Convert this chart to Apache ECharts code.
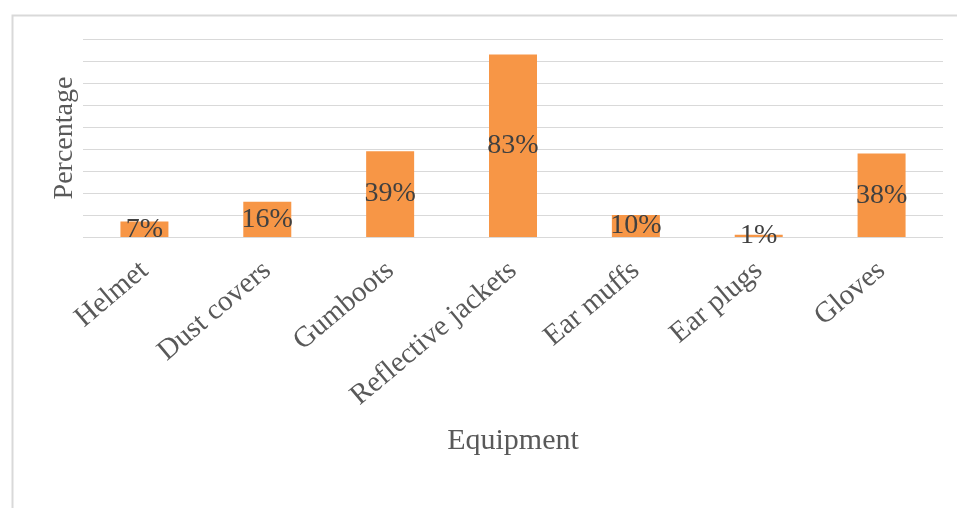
<!DOCTYPE html>
<html>
<head>
<meta charset="utf-8">
<script src="https://cdn.jsdelivr.net/npm/echarts@6/dist/echarts.min.js"></script>
<style>
html,body{margin:0;padding:0;background:#fff;}
#chart{width:957px;height:508px;}
</style>
</head>
<body>
<div id="chart"></div>
<script>
const categories = ['Helmet', 'Dust covers', 'Gumboots', 'Reflective jackets', 'Ear muffs', 'Ear plugs', 'Gloves'];
const percentages = [7, 16, 39, 83, 10, 1, 38];
const yMin = 0, yMax = 90, yInterval = 10;

const serif = '"Liberation Serif", "Times New Roman", serif';
const chart = echarts.init(document.getElementById('chart'), null, {renderer: 'canvas'});
chart.setOption({
  animation: false,
  backgroundColor: '#ffffff',
  graphic: [{
    type: 'rect',
    left: 10, top: 13,
    shape: {width: 980, height: 520},
    style: {fill: 'none', stroke: '#d9d9d9', lineWidth: 2},
    silent: true
  }],
  grid: {left: 83, right: 14, top: 39, height: 198},
  xAxis: {
    type: 'category',
    data: categories,
    axisLine: {show: false},
    axisTick: {show: false},
    axisLabel: {
      rotate: 40, margin: 30, interval: 0,
      fontFamily: serif, fontSize: 29, color: '#595959'
    },
    name: 'Equipment',
    nameLocation: 'middle',
    nameGap: 189,
    nameTextStyle: {fontFamily: serif, fontSize: 30, color: '#595959'}
  },
  yAxis: {
    type: 'value',
    min: yMin, max: yMax, interval: yInterval,
    axisLabel: {show: false},
    axisLine: {show: false},
    axisTick: {show: false},
    splitLine: {lineStyle: {color: '#d9d9d9', width: 1}},
    name: 'Percentage',
    nameLocation: 'middle',
    nameGap: 4,
    nameTextStyle: {fontFamily: serif, fontSize: 28, color: '#595959'}
  },
  series: [{
    type: 'bar',
    data: percentages,
    barWidth: 48,
    itemStyle: {color: '#F79646'},
    label: {
      show: true,
      position: 'inside',
      formatter: '{c}%',
      fontFamily: serif, fontSize: 28, color: '#404040'
    }
  }]
});
</script>
</body>
</html>
